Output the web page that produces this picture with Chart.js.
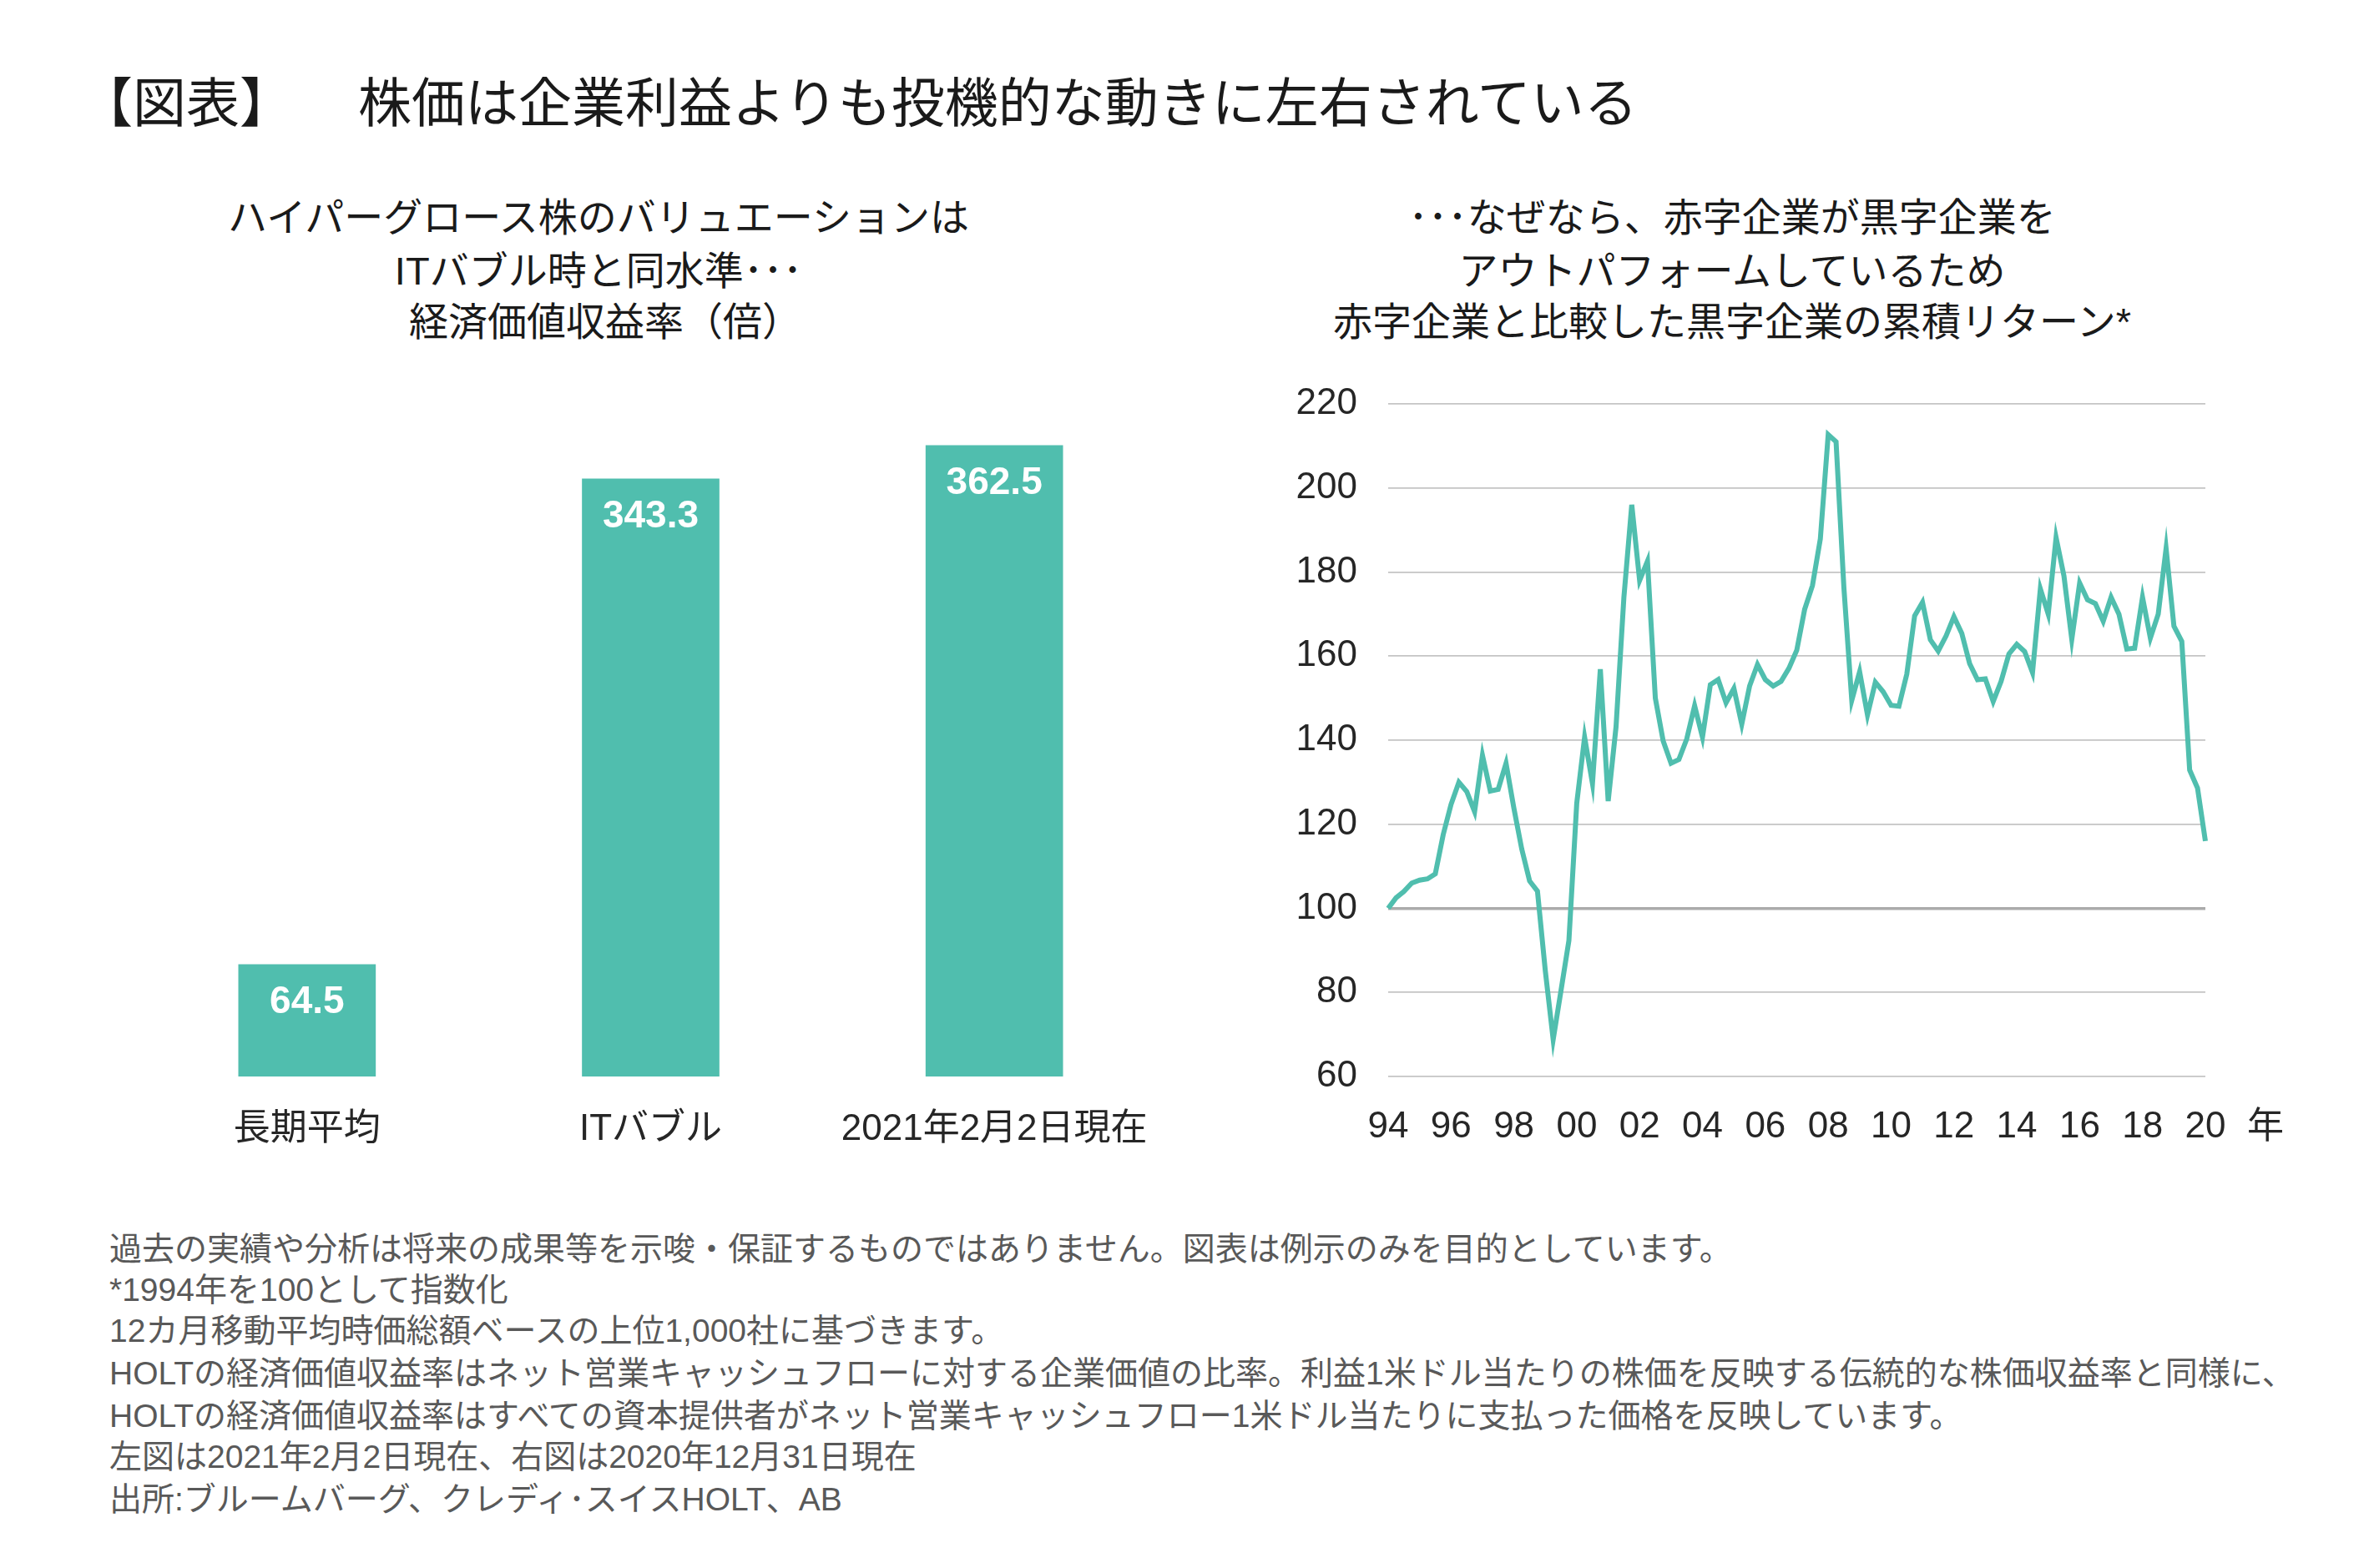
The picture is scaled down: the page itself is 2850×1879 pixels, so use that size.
<!DOCTYPE html>
<html lang="ja">
<head>
<meta charset="utf-8">
<title>株価は企業利益よりも投機的な動きに左右されている</title>
<script src="https://cdn.jsdelivr.net/npm/chart.js@4.4.0/dist/chart.umd.min.js"></script>
<style>
    body {
        margin: 0;
        background: #ffffff;
        font-family: 'Liberation Sans', 'Noto Sans CJK JP', sans-serif;
        color: #1a1a1a;
    }
    #page {
        position: relative;
        width: 2850px;
        height: 1879px;
        overflow: hidden;
    }
    .txt {
        position: absolute;
        white-space: nowrap;
    }
    .title {
        font-size: 64px;
        line-height: 64px;
    }
    .subtitle {
        width: 1000px;
        text-align: center;
        font-size: 47px;
        line-height: 47px;
    }
    .note {
        left: 131px;
        font-size: 39px;
        line-height: 39px;
        color: #595959;
    }
    canvas {
        position: absolute;
    }
</style>
</head>
<body>
<div id="page">
    <div class="txt title" style="left:95px; top:92px;">【図表】</div>
    <div class="txt title" style="left:429px; top:92px;">株価は企業利益よりも投機的な動きに左右されている</div>

    <div class="txt subtitle" style="left:217px; top:237px;">ハイパーグロース株のバリュエーションは</div>
    <div class="txt subtitle" style="left:217px; top:301px;">ITバブル時と同水準･･･</div>
    <div class="txt subtitle" style="left:225px; top:362px;">経済価値収益率（倍）</div>

    <div class="txt subtitle" style="left:1575px; top:237px;">･･･なぜなら、赤字企業が黒字企業を</div>
    <div class="txt subtitle" style="left:1575px; top:301px;">アウトパフォームしているため</div>
    <div class="txt subtitle" style="left:1575px; top:362px;">赤字企業と比較した黒字企業の累積リターン*</div>

    <canvas id="bar-chart" width="1400" height="960" style="left:100px; top:440px;"></canvas>
    <canvas id="line-chart" width="1200" height="960" style="left:1540px; top:440px;"></canvas>

    <div class="txt" style="left:2692px; top:1327px; font-size:44px; line-height:44px; color:#262626;">年</div>

    <div class="txt note" style="top:1477px;">過去の実績や分析は将来の成果等を示唆・保証するものではありません。図表は例示のみを目的としています。</div>
    <div class="txt note" style="top:1526px;">*1994年を100として指数化</div>
    <div class="txt note" style="top:1575px;">12カ月移動平均時価総額ベースの上位1,000社に基づきます。</div>
    <div class="txt note" style="top:1626px;">HOLTの経済価値収益率はネット営業キャッシュフローに対する企業価値の比率。利益1米ドル当たりの株価を反映する伝統的な株価収益率と同様に、</div>
    <div class="txt note" style="top:1677px;">HOLTの経済価値収益率はすべての資本提供者がネット営業キャッシュフロー1米ドル当たりに支払った価格を反映しています。</div>
    <div class="txt note" style="top:1726px;">左図は2021年2月2日現在、右図は2020年12月31日現在</div>
    <div class="txt note" style="top:1777px;">出所:ブルームバーグ、クレディ･スイスHOLT、AB</div>
</div>

<script>
// Left chart data
const barCategories = ['長期平均', 'ITバブル', '2021年2月2日現在'];
const barValues = [64.5, 343.3, 362.5];

// Right chart data (quarterly, 1994 = 100)
const lineValues = [
    100, 102.5, 104, 106, 106.7, 107, 108.2, 117.5,
    124.7, 130, 127.8, 123, 136.4, 127.9, 128.3, 134.5,
    123.8, 114.1, 106.5, 104.1, 85.1, 68.8, 80.5, 92.3,
    125, 140.7, 129.7, 156.9, 125.5, 143.2, 174, 196,
    178, 182.6, 150, 139.8, 134.5, 135.4, 140.3, 148.2,
    140.7, 153.2, 154.4, 148.9, 152.3, 143.8, 152.9, 158,
    154.4, 152.9, 154, 157.1, 161.4, 171.1, 176.8, 187.9,
    212.7, 211, 176.2, 149.5, 156.3, 146, 153.8, 151.5,
    148.3, 148.1, 155.7, 169.6, 172.8, 163.9, 161.2, 164.8,
    169.4, 165.4, 158.2, 154.4, 154.6, 149.2, 154, 160.5,
    162.8, 161.1, 156.1, 176, 170, 188.2, 179.1, 164,
    177.4, 173.4, 172.5, 168.3, 174, 170, 161.7, 161.9,
    174, 164.3, 170, 185.6, 167.1, 163.5, 132.9, 128.6,
    116
];
const yearTicks = ['94', '96', '98', '00', '02', '04', '06', '08', '10', '12', '14', '16', '18', '20'];
const firstYear = 1994;

// Colors
const teal = '#50BEAE';
const tickColor = '#262626';
const fontFamily = "'Liberation Sans', 'Noto Sans CJK JP', sans-serif";

Chart.defaults.font.family = fontFamily;
Chart.defaults.animation = false;
Chart.defaults.devicePixelRatio = 1;

// Draw value labels inside the top of each bar
const barLabelPlugin = {
    id: 'barLabels',
    afterDatasetsDraw(chart) {
        const ctx = chart.ctx;
        const meta = chart.getDatasetMeta(0);
        ctx.save();
        ctx.fillStyle = '#ffffff';
        ctx.font = `bold 46px ${fontFamily}`;
        ctx.textAlign = 'center';
        ctx.textBaseline = 'middle';
        meta.data.forEach((bar, i) => {
            ctx.fillText(barValues[i].toFixed(1), bar.x, bar.y + 46);
        });
        ctx.restore();
    }
};

function createBarChart() {
    const ctx = document.getElementById('bar-chart').getContext('2d');
    new Chart(ctx, {
        type: 'bar',
        data: {
            labels: barCategories,
            datasets: [{
                data: barValues,
                backgroundColor: teal,
                borderWidth: 0,
                barPercentage: 0.5,
                categoryPercentage: 0.8
            }]
        },
        options: {
            responsive: false,
            layout: {
                padding: { left: 62, right: 103, top: 57, bottom: 0 }
            },
            plugins: {
                legend: { display: false },
                tooltip: { enabled: false }
            },
            scales: {
                x: {
                    grid: { display: false },
                    border: { display: false },
                    ticks: {
                        color: tickColor,
                        font: { size: 44 },
                        padding: 29
                    },
                    afterFit(scale) {
                        scale.height = 110;
                    }
                },
                y: {
                    display: false,
                    min: 0,
                    max: 380
                }
            }
        },
        plugins: [barLabelPlugin]
    });
}

function createLineChart() {
    const ctx = document.getElementById('line-chart').getContext('2d');

    // One category per quarter
    const quarters = [];
    for (let i = 0; i < lineValues.length; i++) {
        quarters.push(`${firstYear + Math.floor(i / 4)} Q${(i % 4) + 1}`);
    }

    new Chart(ctx, {
        type: 'line',
        data: {
            labels: quarters,
            datasets: [{
                data: lineValues,
                borderColor: teal,
                borderWidth: 6,
                pointRadius: 0,
                tension: 0,
                fill: false
            }]
        },
        options: {
            responsive: false,
            layout: {
                padding: { left: 0, right: 98, top: 44, bottom: 0 }
            },
            plugins: {
                legend: { display: false },
                tooltip: { enabled: false }
            },
            scales: {
                x: {
                    offset: false,
                    grid: { display: false },
                    border: { display: false },
                    ticks: {
                        autoSkip: false,
                        maxRotation: 0,
                        color: tickColor,
                        font: { size: 44 },
                        padding: 26,
                        callback: (value, index) => index % 8 === 0 ? yearTicks[index / 8] : null
                    },
                    afterFit(scale) {
                        scale.height = 110;
                    }
                },
                y: {
                    min: 60,
                    max: 220,
                    border: { display: false },
                    grid: {
                        drawTicks: false,
                        color: (c) => c.tick && c.tick.value === 100 ? '#ABABAB' : '#C4C4C4',
                        lineWidth: (c) => c.tick && c.tick.value === 100 ? 3.4 : 1.8
                    },
                    ticks: {
                        stepSize: 20,
                        color: tickColor,
                        font: { size: 44 },
                        padding: 37
                    },
                    afterFit(scale) {
                        // fixed axis width; let layout padding set the top edge
                        scale.width = 123;
                        scale.paddingTop = 0;
                        scale.paddingBottom = 0;
                    }
                }
            }
        }
    });
}

function init() {
    createBarChart();
    createLineChart();
}

document.addEventListener('DOMContentLoaded', init);
</script>
</body>
</html>
